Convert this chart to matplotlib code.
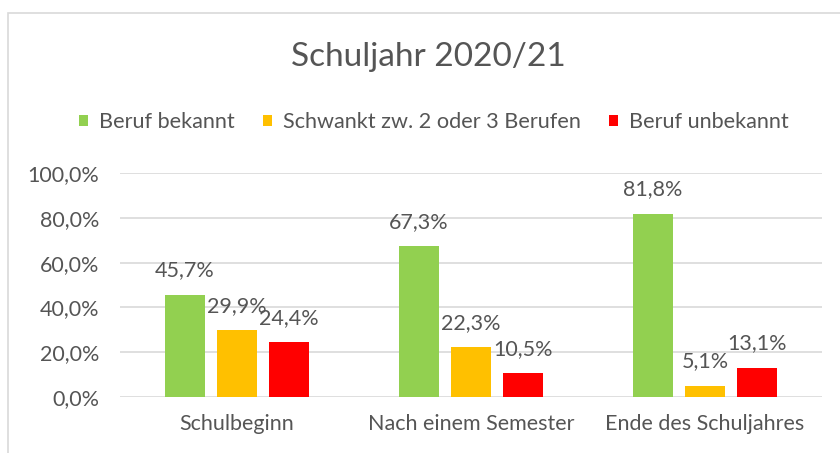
"""
Schuljahr 2020/21 - grouped bars.
"""

import numpy as np
from matplotlib import pyplot as plt
from matplotlib.patches import Rectangle
from matplotlib.ticker import FuncFormatter

categories = ["Schulbeginn", "Nach einem Semester", "Ende des Schuljahres"]
series_names = ["Beruf bekannt", "Schwankt zw. 2 oder 3 Berufen", "Beruf unbekannt"]
bekannt = [45.7, 67.3, 81.8]
schwankt = [29.9, 22.3, 5.1]
unbekannt = [24.4, 10.5, 13.1]

colors = ["#92D050", "#FFC000", "#FF0000"]
text_col = "#555555"
grid_col = "#d9d9d9"

plt.rcParams["font.family"] = ["Lato", "DejaVu Sans"]

fig = plt.figure(figsize=(8.4, 4.53), dpi=100)
fig.patch.set_facecolor("white")

# chart frame (runs off the right and bottom edge)
fig.patches.append(Rectangle((8 / 840, -0.1), 1.2, 1.1 - 13 / 453,
                             transform=fig.transFigure, fill=False,
                             edgecolor=grid_col, linewidth=1.2))

ax = fig.add_axes([120 / 840, 1 - 397 / 453, 702 / 840, 224 / 453])

x = np.arange(len(categories))
width = 0.172
step = 0.222

for k, (vals, name, col) in enumerate(zip([bekannt, schwankt, unbekannt],
                                          series_names, colors)):
    pos = x + (k - 1) * step
    bars = ax.bar(pos, vals, width, color=col, label=name, zorder=3)
    for b, v in zip(bars, vals):
        ax.annotate(f"{v:.1f}%".replace(".", ","),
                    (b.get_x() + b.get_width() / 2, v),
                    xytext=(0, 17.5), textcoords="offset points",
                    ha="center", va="center", fontsize=15.5,
                    color=text_col, annotation_clip=False)

ax.set_xlim(-0.5, 2.5)
ax.set_ylim(0, 100)
ax.set_yticks(np.arange(0, 101, 20))
ax.yaxis.set_major_formatter(
    FuncFormatter(lambda v, p: f"{v:.1f}%".replace(".", ",")))
ax.set_xticks(x)
ax.set_xticklabels(categories)
ax.tick_params(axis="y", length=0, pad=15, labelsize=15.5, labelcolor=text_col)
ax.tick_params(axis="x", length=0, pad=12, labelsize=15.5, labelcolor=text_col)
ax.grid(axis="y", color=grid_col, linewidth=1.2, zorder=0)
for s in ax.spines.values():
    s.set_visible(False)

fig.text(428 / 840, 1 - 57 / 453, "Schuljahr 2020/21", ha="center",
         va="center", fontsize=24, color=text_col)

fig.legend(loc="center", bbox_to_anchor=(434 / 840, 1 - 122 / 453), ncol=3,
           frameon=False, fontsize=15.6, labelcolor=text_col,
           handlelength=0.42, handleheight=0.42, handletextpad=0.5,
           columnspacing=1.3, borderpad=0, borderaxespad=0)

plt.savefig("out.png", dpi=100)
